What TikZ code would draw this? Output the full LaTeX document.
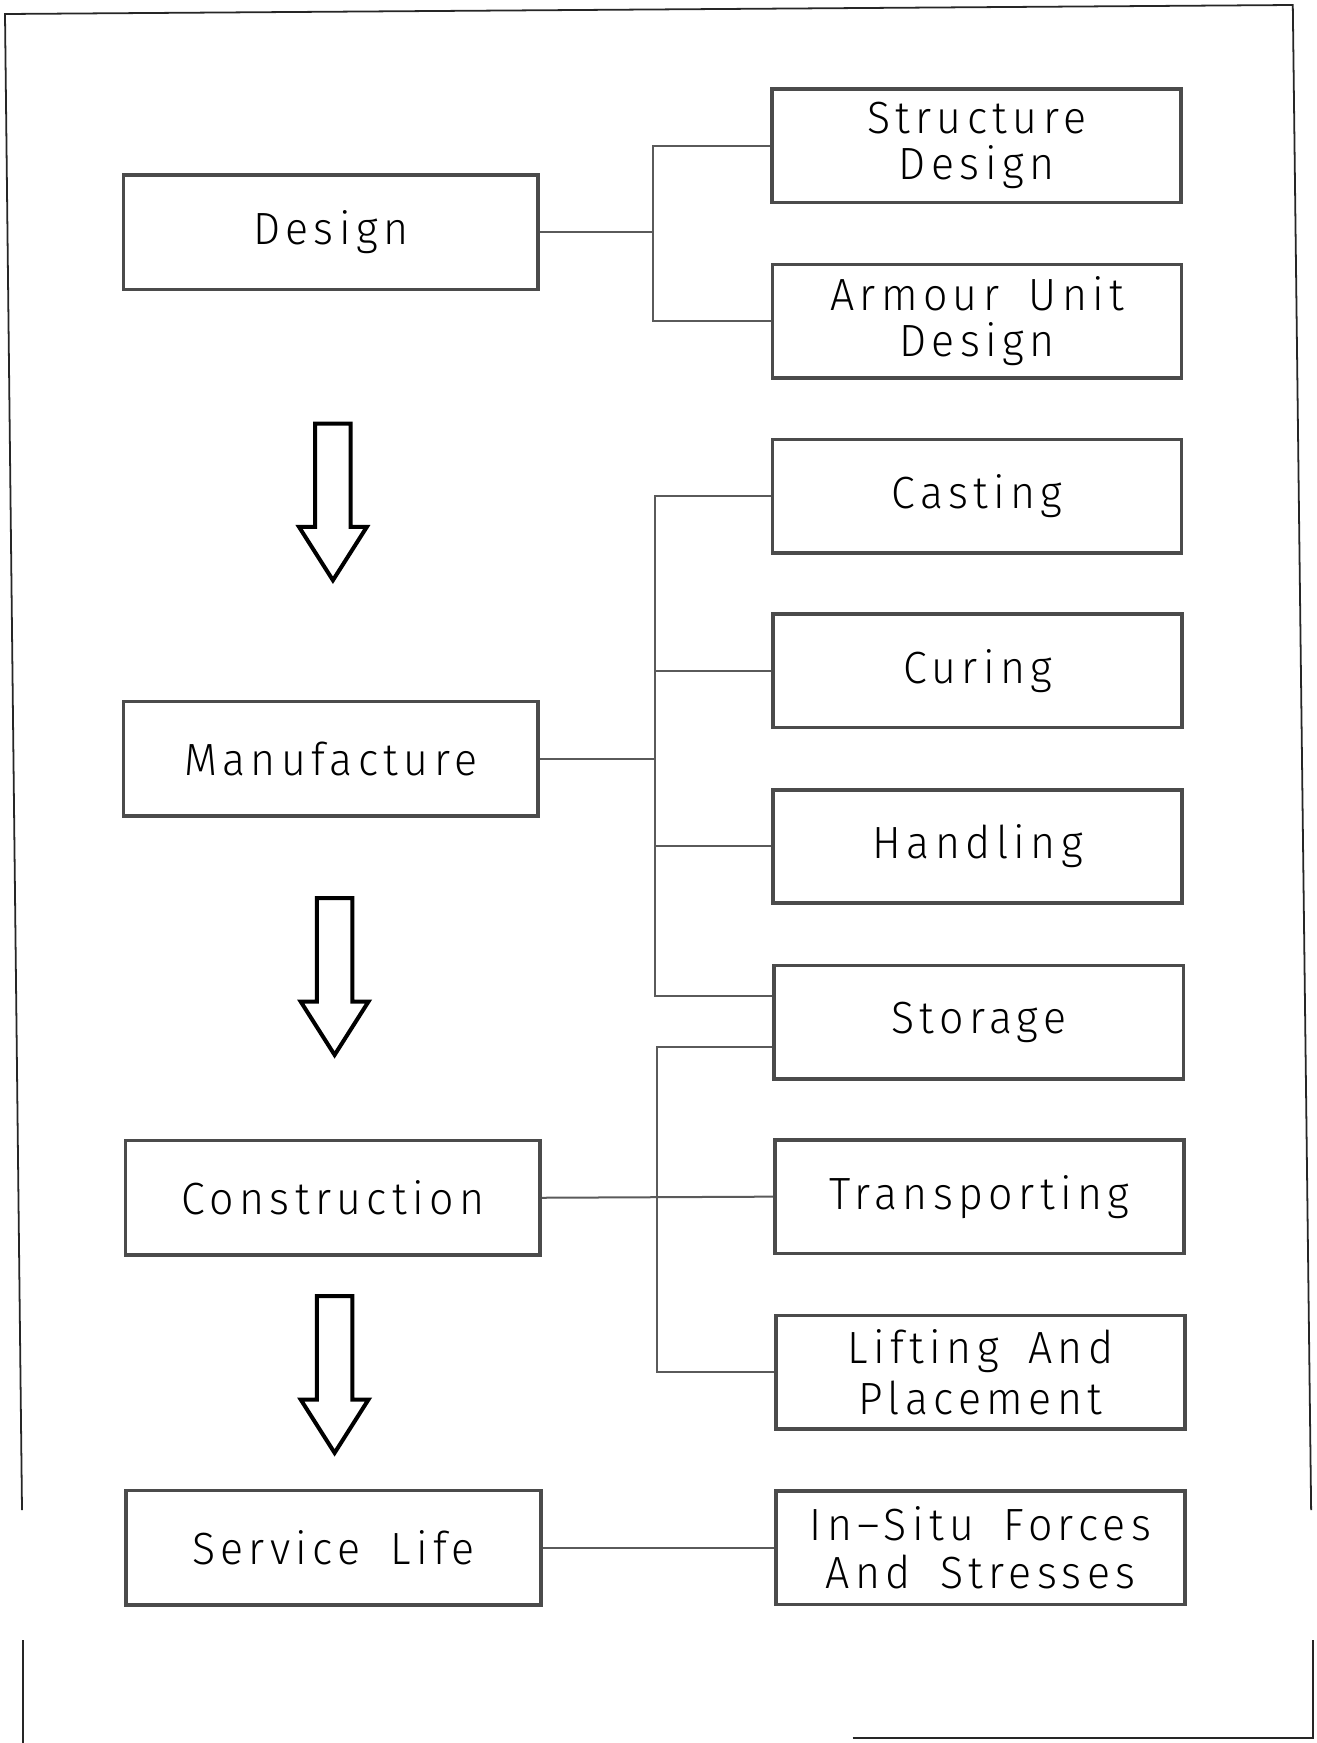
\documentclass[tikz,border=0pt]{standalone}
\usepackage{fontspec}
\newfontfamily\cadfont[UprightFont=* Light, FakeStretch=0.95, LetterSpace=12, WordSpace=1.7]{Fira Sans}
\definecolor{boxgrey}{RGB}{75,75,75}
\definecolor{conngrey}{RGB}{90,90,90}
\tikzset{
  stage/.style={draw=boxgrey, line width=1.6pt, minimum width=186.5pt, minimum height=51.5pt,
    inner sep=0pt, align=center, font=\cadfont\fontsize{20.3}{21.5}\selectfont},
  task/.style={stage, minimum width=184pt, minimum height=51pt},
  conn/.style={draw=conngrey, line width=0.9pt},
  arrowline/.style={draw=black, line width=1.8pt, line join=miter},
  frameline/.style={draw=black!85, line width=0.8pt},
}
% hollow block arrow pointing down: #1 = centre x, #2 = top y
\newcommand\blkarrow[2]{%
  \draw[arrowline] (#1-16,#2) -- (#1+16,#2) -- (#1+16,#2+93) -- (#1+30.5,#2+93)
    -- (#1,#2+141) -- (#1-30.5,#2+93) -- (#1-16,#2+93) -- cycle;}
\begin{document}
\begin{tikzpicture}[x=0.5pt, y=-0.5pt]
\useasboundingbox (0,0) rectangle (1184,1568);

% sheet frame
\draw[frameline] (19.8,1358.5) -- (4.5,12.6) -- (1163,4.5) -- (1179.5,1358.5);
\draw[frameline, line width=1pt] (20.7,1475.5) -- (20.7,1568);
\draw[frameline, line width=1pt] (767,1563.5) -- (1181,1563.5) -- (1181,1475.5);

% main stages
\node[stage] (design) at (297.5,209)  {Design};
\node[stage] (manu)   at (297.5,682.5) {Manufacture};
\node[stage] (cons)   at (299.5,1077.5) {Construction};
\node[stage] (serv)   at (300,1392.5) {Service Life};

% sub-tasks
\node[task, font=\cadfont\fontsize{20.3}{20.5}\selectfont] (sd)  at (878.5,131) {Structure\\Design};
\node[task, font=\cadfont\fontsize{20.3}{20.5}\selectfont] (aud) at (879,289)   {Armour Unit\\Design};
\node[task] (cast)   at (879,446.5)   {Casting};
\node[task] (cur)    at (879.5,603.5) {Curing};
\node[task] (hand)   at (879.5,761.5) {Handling};
\node[task] (stor)   at (880.5,919.5) {Storage};
\node[task] (trans)  at (881,1076.5)  {Transporting};
\node[task, font=\cadfont\fontsize{20.3}{23}\selectfont] (lift) at (882,1234.5) {Lifting And\\Placement};
\node[task] (insitu) at (882,1392.5)  {In–Situ Forces\\And Stresses};

% flow arrows between stages
\blkarrow{299.5}{381}
\blkarrow{301}{808}
\blkarrow{301}{1166}

% bus positions
\coordinate (bus1) at (587,209);
\coordinate (bus2) at (589,682.5);
\coordinate (bus3) at (591,1077.5);

% design branch
\draw[conn] (design.east) -- (bus1);
\draw[conn] (sd.west) -| (bus1) |- (aud.west);

% manufacture branch
\draw[conn] (manu.east) -- (bus2);
\draw[conn] (cast.west) -| (bus2) |- ([yshift=11.75pt]stor.west);
\draw[conn] (cur.west) -- (cur.west -| bus2);
\draw[conn] (hand.west) -- (hand.west -| bus2);

% construction branch
\draw[conn] (cons.east) -- (trans.west);
\draw[conn] ([yshift=-11.25pt]stor.west) -| (bus3) |- (lift.west);

% service life
\draw[conn] (serv.east) -- (insitu.west);
\end{tikzpicture}
\end{document}
